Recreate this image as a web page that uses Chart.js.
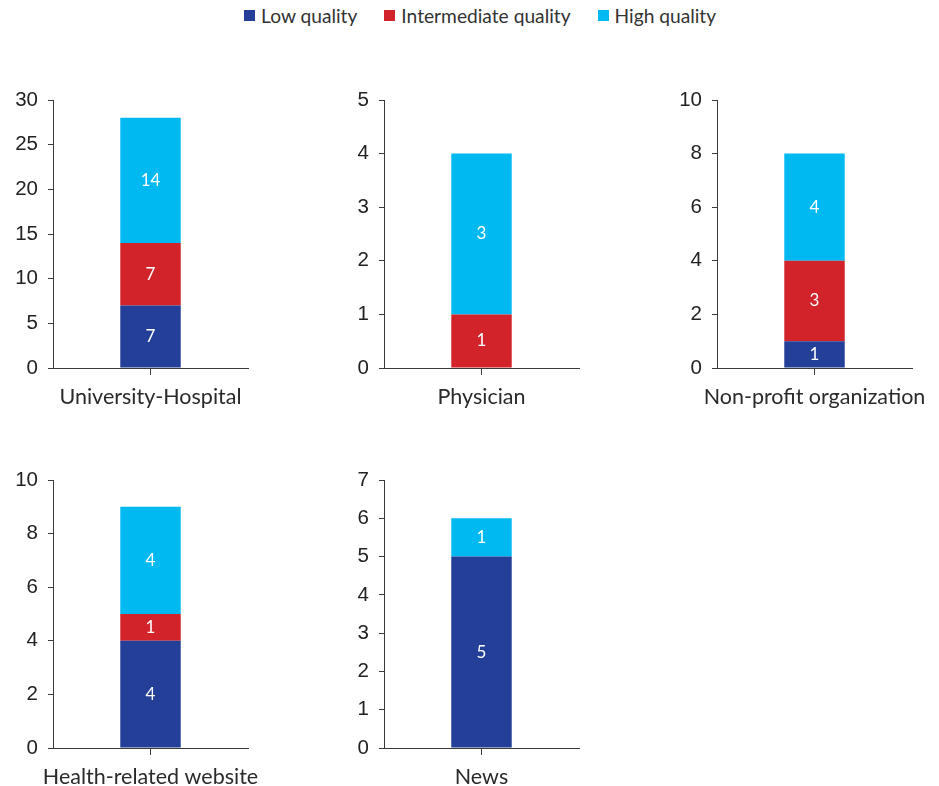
<!DOCTYPE html>
<html>
<head>
<meta charset="utf-8">
<script src="https://cdn.jsdelivr.net/npm/chart.js@4.4.1/dist/chart.umd.min.js"></script>
<style>
  html, body { margin: 0; padding: 0; background: #fff; }
  #page { position: relative; width: 939px; height: 786px; overflow: hidden; }
  .panel { position: absolute; }
  #legend { position: absolute; top: 4px; left: 244px; display: flex; align-items: center;
            font-family: Lato, "Noto Sans", sans-serif; font-size: 19.2px; color: #333; white-space: nowrap; }
  #legend .item { display: flex; align-items: center; margin-right: 27px; }
  #legend .swatch { width: 11px; height: 11px; margin-right: 6px; }
</style>
</head>
<body>
<div id="page"><div id="legend"></div></div>
<script>
// Source categories, one small stacked bar chart each
const categories = ["University-Hospital", "Physician", "Non-profit organization", "Health-related website", "News"];

// Number of websites per quality grade
const lowQuality = [7, 0, 1, 4, 5];
const intermediateQuality = [7, 1, 3, 1, 0];
const highQuality = [14, 3, 4, 4, 1];

// Y-axis range and tick step of each panel
const yMax = [30, 5, 10, 10, 7];
const yStep = [5, 1, 2, 2, 1];

const seriesNames = ["Low quality", "Intermediate quality", "High quality"];
const seriesValues = [lowQuality, intermediateQuality, highQuality];
const seriesColors = ["#233f97", "#d2232b", "#00b9f1"];

// Top-left corner of each plot area on the page
const plotOrigins = [[53, 100], [384, 100], [717, 100], [53, 480], [384, 480]];
const PLOT_W = 195, PLOT_H = 268;
const Y_AXIS_W = 53, PAD_TOP = 14, X_AXIS_H = 45, PAD_RIGHT = 25;

const page = document.getElementById('page');
const legend = document.getElementById('legend');
seriesNames.forEach((name, i) => {
  const item = document.createElement('div');
  item.className = 'item';
  const sw = document.createElement('span');
  sw.className = 'swatch';
  sw.style.background = seriesColors[i];
  item.appendChild(sw);
  item.appendChild(document.createTextNode(name));
  legend.appendChild(item);
});

// Writes each segment's count in the middle of its bar
const segmentLabels = {
  id: 'segmentLabels',
  afterDatasetsDraw(chart) {
    const ctx = chart.ctx;
    ctx.save();
    ctx.font = '17px Lato, "Noto Sans", sans-serif';
    ctx.fillStyle = '#ffffff';
    ctx.textAlign = 'center';
    ctx.textBaseline = 'middle';
    chart.data.datasets.forEach((ds, di) => {
      chart.getDatasetMeta(di).data.forEach((bar, j) => {
        const v = ds.data[j];
        if (!v) return;
        ctx.fillText(String(v), bar.x, (bar.y + bar.base) / 2);
      });
    });
    ctx.restore();
  }
};

const axisColor = '#3a3a3a';

categories.forEach((cat, p) => {
  const [ox, oy] = plotOrigins[p];
  const canvas = document.createElement('canvas');
  const w = Y_AXIS_W + PLOT_W + PAD_RIGHT;
  const h = PAD_TOP + PLOT_H + X_AXIS_H;
  canvas.width = w; canvas.height = h;
  canvas.className = 'panel';
  canvas.style.left = (ox - Y_AXIS_W) + 'px';
  canvas.style.top = (oy - PAD_TOP) + 'px';
  canvas.style.width = w + 'px';
  canvas.style.height = h + 'px';
  page.appendChild(canvas);

  new Chart(canvas, {
    type: 'bar',
    data: {
      labels: [cat],
      datasets: seriesNames.map((name, s) => ({
        label: name,
        data: [seriesValues[s][p]],
        backgroundColor: seriesColors[s],
        borderWidth: 0,
        barPercentage: 0.31,
        categoryPercentage: 1
      }))
    },
    options: {
      responsive: false,
      animation: false,
      devicePixelRatio: 1,
      layout: { padding: { top: PAD_TOP, right: PAD_RIGHT, left: 0, bottom: 0 } },
      plugins: { legend: { display: false }, tooltip: { enabled: false } },
      scales: {
        x: {
          stacked: true,
          afterFit: (scale) => { scale.height = X_AXIS_H; scale.paddingLeft = 0; scale.paddingRight = 0; },
          grid: { offset: false, drawOnChartArea: false, drawTicks: true, tickLength: 7, color: axisColor },
          border: { display: true, color: axisColor, width: 1 },
          ticks: { color: '#2a2a2a', padding: 9, font: { family: 'Lato, "Noto Sans", sans-serif', size: 21.5 } }
        },
        y: {
          stacked: true,
          min: 0,
          max: yMax[p],
          afterFit: (scale) => { scale.width = Y_AXIS_W; scale.paddingTop = 0; scale.paddingBottom = 0; },
          grid: { drawOnChartArea: false, drawTicks: true, tickLength: 5, color: axisColor },
          border: { display: true, color: axisColor, width: 1 },
          ticks: { stepSize: yStep[p], color: '#222', padding: 10,
                   font: { family: '"Liberation Sans", Arial, sans-serif', size: 20.5 } }
        }
      }
    },
    plugins: [segmentLabels]
  });
});
</script>
</body>
</html>
